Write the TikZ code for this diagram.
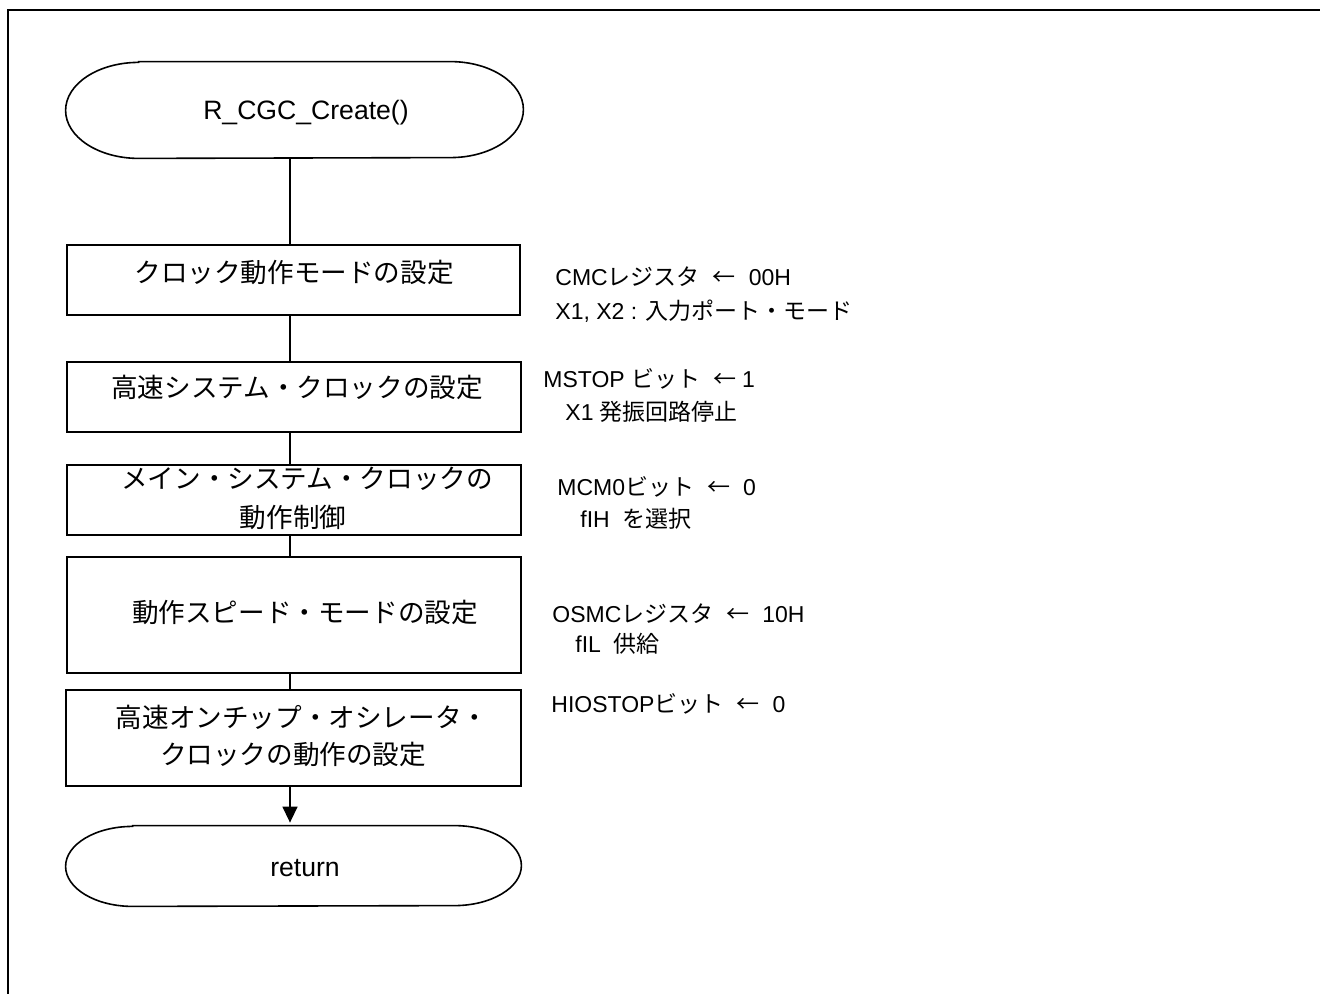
\documentclass[tikz,border=0pt]{standalone}
\usepackage{fontspec}
\setmainfont{Liberation Sans}
\newfontfamily\jp{Noto Sans CJK JP}
\usetikzlibrary{arrows.meta}
\tikzset{
  box/.style={draw, line width=1pt, inner sep=0pt},
  ghost/.style={inner sep=0pt},
  term/.style={line width=0.8pt},
  conn/.style={line width=0.7pt},
  frame/.style={line width=1.4pt},
  txt/.style={inner sep=0pt, text height=0.75em, text depth=0pt, font=\fontsize{13.3pt}{18pt}\selectfont},
  note/.style={inner sep=0pt, anchor=west, text height=0.75em, text depth=0pt, font=\fontsize{11.5pt}{16pt}\selectfont},
}
\newcommand{\termpath}[4]{% name, rx, ry
  \draw[term] ([xshift=#2]#1.north west) -- ([xshift=-#2]#1.north east)
    arc[start angle=90, end angle=-90, x radius=#2, y radius=#3]
    -- ([xshift=#2]#1.south west)
    arc[start angle=270, end angle=90, x radius=#2, y radius=#3] -- cycle;}
\newcommand{\gap}{\hspace{6.5pt}}
\begin{document}
\begin{tikzpicture}[x=0.5pt, y=-0.5pt]
\useasboundingbox (0,0) rectangle (1320,994);
\fill[white] (0,0) rectangle (1320,994);
\draw[frame] (8,994) -- (8,10) -- (1320,10);
\coordinate (lx) at (290,0);

% terminals
\node[ghost, minimum width=228.5pt, minimum height=48pt] (start) at (294.5,110) {};
\termpath{start}{36.5pt}{24pt}{}
\node[txt] (t0) at (306,112) {R\_CGC\_Create()};

\node[ghost, minimum width=227.5pt, minimum height=40pt] (ret) at (293.5,866) {};
\termpath{ret}{33.5pt}{20pt}{}
\node[txt] (tr) at (305,869) {return};

% process boxes
\node[box, minimum width=226.5pt, minimum height=35pt] (b1) at (293.5,280) {};
\node[box, minimum width=227pt, minimum height=35pt] (b2) at (294,397) {};
\node[box, minimum width=227pt, minimum height=35pt] (b3) at (294,500) {};
\node[box, minimum width=227pt, minimum height=58pt] (b4) at (294,615) {};
\node[box, minimum width=227.5pt, minimum height=48pt] (b5) at (293.5,738) {};

\node[txt] (t1) at (294,275) {\jp クロック動作モードの設定};
\node[txt] (t2) at (297,390) {\jp 高速システム・クロックの設定};
\node[txt] (t3a) at (307,481) {\jp メイン・システム・クロックの};
\node[txt] (t3b) at (293,520) {\jp 動作制御};
\node[txt] (t4) at (305,615) {\jp 動作スピード・モードの設定};
\node[txt] (t5a) at (302,720) {\jp 高速オンチップ・オシレータ・};
\node[txt] (t5b) at (293,757) {\jp クロックの動作の設定};

% connectors
\draw[conn] (start.south -| lx) -- (b1.north -| lx);
\draw[conn] (b1.south -| lx) -- (b2.north -| lx);
\draw[conn] (b2.south -| lx) -- (b3.north -| lx);
\draw[conn] (b3.south -| lx) -- (b4.north -| lx);
\draw[conn] (b4.south -| lx) -- (b5.north -| lx);
\draw[conn, -{Triangle[length=8pt, width=7.5pt]}] (b5.south -| lx) -- ([yshift=1.5pt]ret.north -| lx);

% annotations
\node[note] (a1) at (555,278) {CMC{\jp レジスタ}\gap{\jp ←}\gap 00H};
\node[note] (a2) at (555,312) {X1, X2 : {\jp 入力ポート・モード}};
\node[note] (a3) at (543,380) {MSTOP {\jp ビット}\gap{\jp ←}\hspace{3pt}1};
\node[note] (a4) at (565,413) {X1 {\jp 発振回路停止}};
\node[note] (a5) at (557,488) {MCM0{\jp ビット}\gap{\jp ←}\gap 0};
\node[note] (a6) at (580,520) {fIH\ \ {\jp を選択}};
\node[note] (a7) at (552,615) {OSMC{\jp レジスタ}\gap{\jp ←}\gap 10H};
\node[note] (a8) at (575,645) {fIL\ \ {\jp 供給}};
\node[note] (a9) at (551,705) {HIOSTOP{\jp ビット}\gap{\jp ←}\gap 0};
\end{tikzpicture}
\end{document}
